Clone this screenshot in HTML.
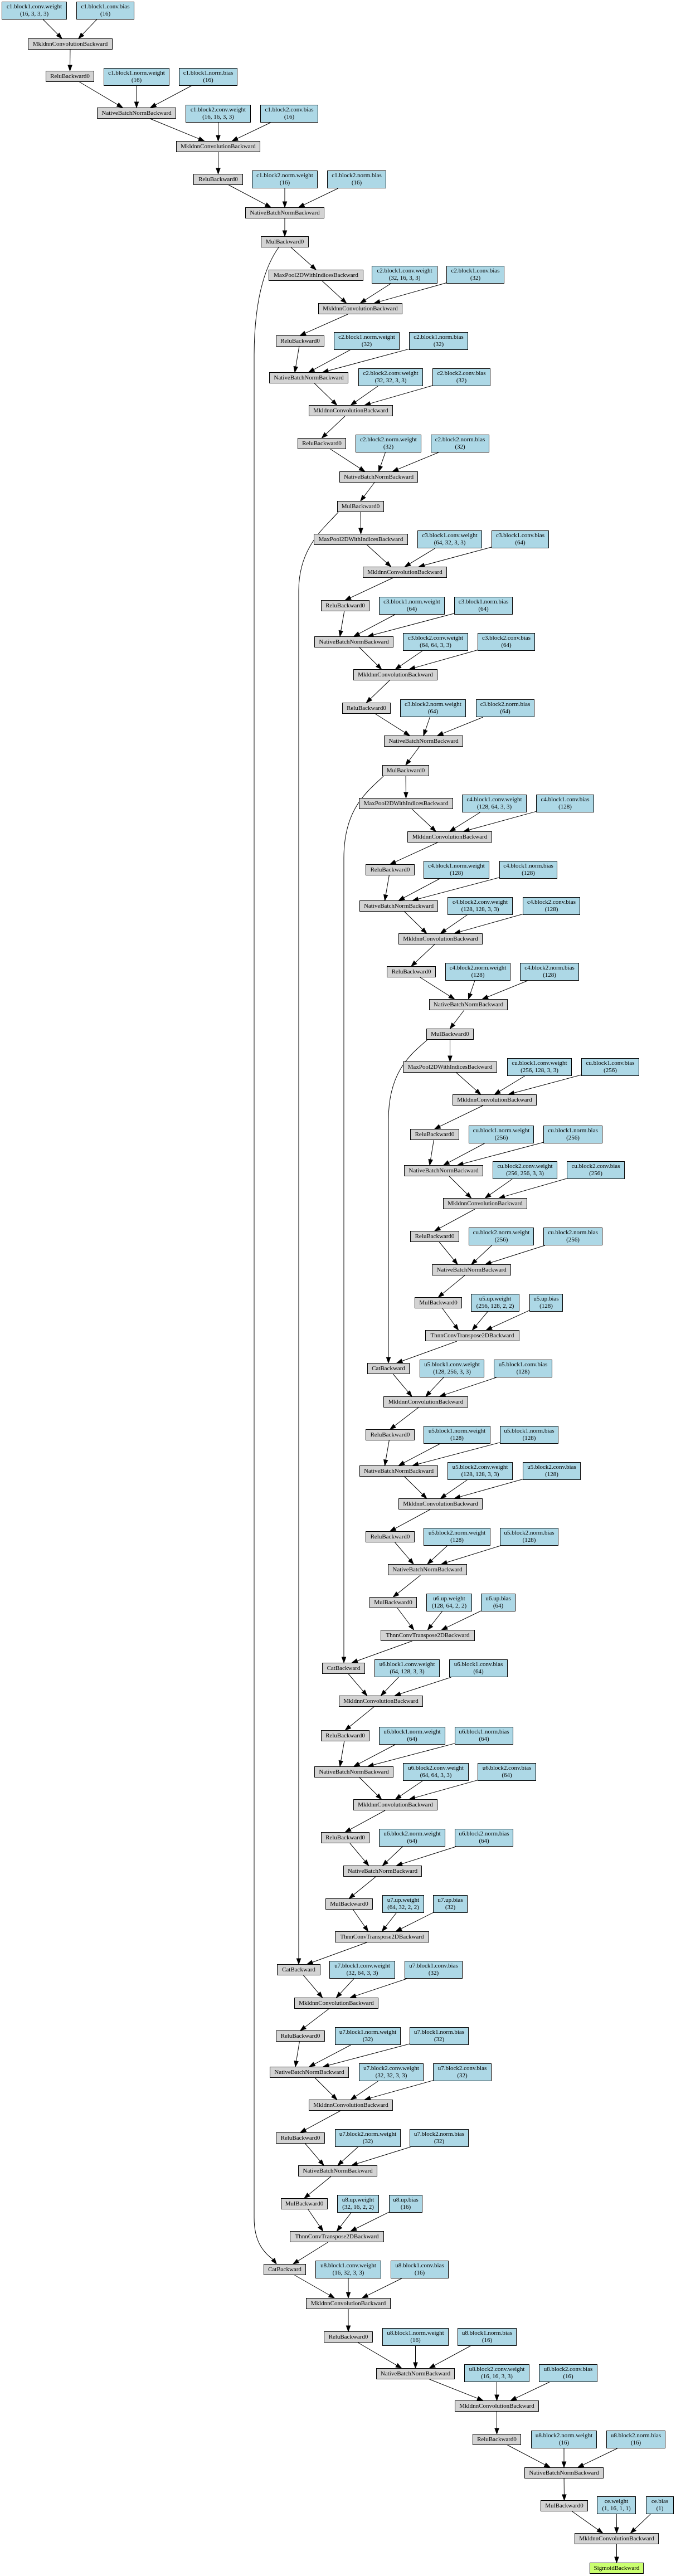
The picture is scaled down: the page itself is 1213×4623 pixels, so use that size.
<!DOCTYPE html>
<html><head><meta charset="utf-8">
<style>
html,body{margin:0;padding:0;background:#fff}
#w{position:relative;width:1213px;height:4623px;overflow:hidden}
svg{position:absolute;left:0;top:0}
.n{position:absolute;box-sizing:border-box;border:1px solid #000;font-family:"Liberation Serif",serif;font-size:11px;line-height:13px;color:#000;display:flex;align-items:center;justify-content:center;text-align:center;white-space:nowrap;overflow:hidden}
.g{background:#d3d3d3;height:20px}
.b{background:#add8e6;height:32px}
.s{background:#caff70;height:20px}
</style></head><body><div id="w">
<svg id="s" width="1213" height="4623" xmlns="http://www.w3.org/2000/svg"></svg>

<div class="n b" id="a1" style="left:3px;top:3px;width:117px">c1.block1.conv.weight<br>(16, 3, 3, 3)</div>
<div class="n b" id="a2" style="left:137px;top:3px;width:104px">c1.block1.conv.bias<br>(16)</div>
<div class="n g" id="a3" style="left:50px;top:69px;width:152px">MkldnnConvolutionBackward</div>
<div class="n g" id="a4" style="left:82px;top:127px;width:87px">ReluBackward0</div>
<div class="n b" id="a5" style="left:186px;top:122px;width:118px">c1.block1.norm.weight<br>(16)</div>
<div class="n b" id="a6" style="left:321px;top:122px;width:105px">c1.block1.norm.bias<br>(16)</div>
<div class="n g" id="a7" style="left:174px;top:193px;width:142px">NativeBatchNormBackward</div>
<div class="n b" id="a8" style="left:333px;top:188px;width:117px">c1.block2.conv.weight<br>(16, 16, 3, 3)</div>
<div class="n b" id="a9" style="left:467px;top:188px;width:104px">c1.block2.conv.bias<br>(16)</div>
<div class="n g" id="a10" style="left:316px;top:253px;width:151px">MkldnnConvolutionBackward</div>
<div class="n g" id="a11" style="left:347px;top:312px;width:89px">ReluBackward0</div>
<div class="n b" id="a12" style="left:452px;top:306px;width:118px">c1.block2.norm.weight<br>(16)</div>
<div class="n b" id="a13" style="left:587px;top:306px;width:106px">c1.block2.norm.bias<br>(16)</div>
<div class="n g" id="a14" style="left:440px;top:372px;width:142px">NativeBatchNormBackward</div>
<div class="n g" id="a15" style="left:468px;top:424px;width:86px">MulBackward0</div>

<div class="n g" id="b1" style="left:482px;top:484px;width:170px">MaxPool2DWithIndicesBackward</div>
<div class="n b" id="b2" style="left:667px;top:477px;width:118px">c2.block1.conv.weight<br>(32, 16, 3, 3)</div>
<div class="n b" id="b3" style="left:801px;top:477px;width:104px">c2.block1.conv.bias<br>(32)</div>
<div class="n g" id="b4" style="left:571px;top:544px;width:151px">MkldnnConvolutionBackward</div>
<div class="n g" id="b5" style="left:495px;top:602px;width:87px">ReluBackward0</div>
<div class="n b" id="b6" style="left:599px;top:596px;width:118px">c2.block1.norm.weight<br>(32)</div>
<div class="n b" id="b7" style="left:734px;top:596px;width:106px">c2.block1.norm.bias<br>(32)</div>
<div class="n g" id="b8" style="left:483px;top:668px;width:142px">NativeBatchNormBackward</div>
<div class="n b" id="b9" style="left:643px;top:661px;width:116px">c2.block2.conv.weight<br>(32, 32, 3, 3)</div>
<div class="n b" id="b10" style="left:776px;top:661px;width:104px">c2.block2.conv.bias<br>(32)</div>
<div class="n g" id="b11" style="left:554px;top:727px;width:151px">MkldnnConvolutionBackward</div>
<div class="n g" id="b12" style="left:534px;top:786px;width:87px">ReluBackward0</div>
<div class="n b" id="b13" style="left:638px;top:780px;width:118px">c2.block2.norm.weight<br>(32)</div>
<div class="n b" id="b14" style="left:773px;top:780px;width:105px">c2.block2.norm.bias<br>(32)</div>
<div class="n g" id="b15" style="left:609px;top:846px;width:141px">NativeBatchNormBackward</div>
<div class="n g" id="b16" style="left:605px;top:899px;width:84px">MulBackward0</div>

<div class="n g" id="c1" style="left:563px;top:958px;width:169px">MaxPool2DWithIndicesBackward</div>
<div class="n b" id="c2" style="left:749px;top:952px;width:116px">c3.block1.conv.weight<br>(64, 32, 3, 3)</div>
<div class="n b" id="c3" style="left:882px;top:952px;width:103px">c3.block1.conv.bias<br>(64)</div>
<div class="n g" id="c4" style="left:651px;top:1017px;width:151px">MkldnnConvolutionBackward</div>
<div class="n g" id="c5" style="left:576px;top:1077px;width:87px">ReluBackward0</div>
<div class="n b" id="c6" style="left:680px;top:1071px;width:118px">c3.block1.norm.weight<br>(64)</div>
<div class="n b" id="c7" style="left:815px;top:1071px;width:105px">c3.block1.norm.bias<br>(64)</div>
<div class="n g" id="c8" style="left:564px;top:1142px;width:142px">NativeBatchNormBackward</div>
<div class="n b" id="c9" style="left:723px;top:1136px;width:117px">c3.block2.conv.weight<br>(64, 64, 3, 3)</div>
<div class="n b" id="c10" style="left:857px;top:1136px;width:103px">c3.block2.conv.bias<br>(64)</div>
<div class="n g" id="c11" style="left:634px;top:1201px;width:151px">MkldnnConvolutionBackward</div>
<div class="n g" id="c12" style="left:614px;top:1261px;width:87px">ReluBackward0</div>
<div class="n b" id="c13" style="left:718px;top:1255px;width:118px">c3.block2.norm.weight<br>(64)</div>
<div class="n b" id="c14" style="left:854px;top:1255px;width:105px">c3.block2.norm.bias<br>(64)</div>
<div class="n g" id="c15" style="left:689px;top:1320px;width:142px">NativeBatchNormBackward</div>
<div class="n g" id="c16" style="left:686px;top:1373px;width:84px">MulBackward0</div>

<div class="n g" id="d1" style="left:644px;top:1432px;width:169px">MaxPool2DWithIndicesBackward</div>
<div class="n b" id="d2" style="left:829px;top:1426px;width:116px">c4.block1.conv.weight<br>(128, 64, 3, 3)</div>
<div class="n b" id="d3" style="left:962px;top:1426px;width:104px">c4.block1.conv.bias<br>(128)</div>
<div class="n g" id="d4" style="left:731px;top:1492px;width:152px">MkldnnConvolutionBackward</div>
<div class="n g" id="d5" style="left:656px;top:1551px;width:88px">ReluBackward0</div>
<div class="n b" id="d6" style="left:760px;top:1545px;width:118px">c4.block1.norm.weight<br>(128)</div>
<div class="n b" id="d7" style="left:896px;top:1545px;width:104px">c4.block1.norm.bias<br>(128)</div>
<div class="n g" id="d8" style="left:645px;top:1616px;width:141px">NativeBatchNormBackward</div>
<div class="n b" id="d9" style="left:803px;top:1610px;width:117px">c4.block2.conv.weight<br>(128, 128, 3, 3)</div>
<div class="n b" id="d10" style="left:938px;top:1610px;width:103px">c4.block2.conv.bias<br>(128)</div>
<div class="n g" id="d11" style="left:715px;top:1675px;width:151px">MkldnnConvolutionBackward</div>
<div class="n g" id="d12" style="left:694px;top:1734px;width:88px">ReluBackward0</div>
<div class="n b" id="d13" style="left:799px;top:1728px;width:117px">c4.block2.norm.weight<br>(128)</div>
<div class="n b" id="d14" style="left:933px;top:1728px;width:106px">c4.block2.norm.bias<br>(128)</div>
<div class="n g" id="d15" style="left:770px;top:1793px;width:141px">NativeBatchNormBackward</div>
<div class="n g" id="d16" style="left:765px;top:1846px;width:85px">MulBackward0</div>

<div class="n g" id="e1" style="left:723px;top:1905px;width:169px">MaxPool2DWithIndicesBackward</div>
<div class="n b" id="e2" style="left:910px;top:1899px;width:116px">cu.block1.conv.weight<br>(256, 128, 3, 3)</div>
<div class="n b" id="e3" style="left:1043px;top:1899px;width:104px">cu.block1.conv.bias<br>(256)</div>
<div class="n g" id="e4" style="left:812px;top:1964px;width:151px">MkldnnConvolutionBackward</div>
<div class="n g" id="e5" style="left:736px;top:2026px;width:88px">ReluBackward0</div>
<div class="n b" id="e6" style="left:841px;top:2020px;width:117px">cu.block1.norm.weight<br>(256)</div>
<div class="n b" id="e7" style="left:975px;top:2020px;width:106px">cu.block1.norm.bias<br>(256)</div>
<div class="n g" id="e8" style="left:725px;top:2091px;width:142px">NativeBatchNormBackward</div>
<div class="n b" id="e9" style="left:884px;top:2084px;width:116px">cu.block2.conv.weight<br>(256, 256, 3, 3)</div>
<div class="n b" id="e10" style="left:1017px;top:2084px;width:104px">cu.block2.conv.bias<br>(256)</div>
<div class="n g" id="e11" style="left:795px;top:2150px;width:151px">MkldnnConvolutionBackward</div>
<div class="n g" id="e12" style="left:736px;top:2209px;width:88px">ReluBackward0</div>
<div class="n b" id="e13" style="left:841px;top:2203px;width:117px">cu.block2.norm.weight<br>(256)</div>
<div class="n b" id="e14" style="left:975px;top:2203px;width:106px">cu.block2.norm.bias<br>(256)</div>
<div class="n g" id="e15" style="left:775px;top:2269px;width:142px">NativeBatchNormBackward</div>
<div class="n g" id="e16" style="left:744px;top:2328px;width:85px">MulBackward0</div>
<div class="n b" id="e17" style="left:845px;top:2322px;width:87px">u5.up.weight<br>(256, 128, 2, 2)</div>
<div class="n b" id="e18" style="left:950px;top:2322px;width:60px">u5.up.bias<br>(128)</div>
<div class="n g" id="e19" style="left:763px;top:2387px;width:169px">ThnnConvTranspose2DBackward</div>

<div class="n g" id="f1" style="left:659px;top:2446px;width:76px">CatBackward</div>
<div class="n b" id="f2" style="left:753px;top:2440px;width:116px">u5.block1.conv.weight<br>(128, 256, 3, 3)</div>
<div class="n b" id="f3" style="left:886px;top:2440px;width:105px">u5.block1.conv.bias<br>(128)</div>
<div class="n g" id="f4" style="left:688px;top:2506px;width:152px">MkldnnConvolutionBackward</div>
<div class="n g" id="f5" style="left:656px;top:2565px;width:88px">ReluBackward0</div>
<div class="n b" id="f6" style="left:760px;top:2559px;width:120px">u5.block1.norm.weight<br>(128)</div>
<div class="n b" id="f7" style="left:897px;top:2559px;width:105px">u5.block1.norm.bias<br>(128)</div>
<div class="n g" id="f8" style="left:645px;top:2630px;width:141px">NativeBatchNormBackward</div>
<div class="n b" id="f9" style="left:803px;top:2624px;width:117px">u5.block2.conv.weight<br>(128, 128, 3, 3)</div>
<div class="n b" id="f10" style="left:938px;top:2624px;width:104px">u5.block2.conv.bias<br>(128)</div>
<div class="n g" id="f11" style="left:715px;top:2689px;width:151px">MkldnnConvolutionBackward</div>
<div class="n g" id="f12" style="left:656px;top:2748px;width:88px">ReluBackward0</div>
<div class="n b" id="f13" style="left:760px;top:2742px;width:120px">u5.block2.norm.weight<br>(128)</div>
<div class="n b" id="f14" style="left:897px;top:2742px;width:105px">u5.block2.norm.bias<br>(128)</div>
<div class="n g" id="f15" style="left:696px;top:2807px;width:142px">NativeBatchNormBackward</div>
<div class="n g" id="f16" style="left:663px;top:2866px;width:85px">MulBackward0</div>
<div class="n b" id="f17" style="left:765px;top:2860px;width:82px">u6.up.weight<br>(128, 64, 2, 2)</div>
<div class="n b" id="f18" style="left:863px;top:2860px;width:62px">u6.up.bias<br>(64)</div>
<div class="n g" id="f19" style="left:683px;top:2925px;width:169px">ThnnConvTranspose2DBackward</div>

<div class="n g" id="g1" style="left:578px;top:2984px;width:77px">CatBackward</div>
<div class="n b" id="g2" style="left:672px;top:2978px;width:117px">u6.block1.conv.weight<br>(64, 128, 3, 3)</div>
<div class="n b" id="g3" style="left:806px;top:2978px;width:105px">u6.block1.conv.bias<br>(64)</div>
<div class="n g" id="g4" style="left:608px;top:3043px;width:151px">MkldnnConvolutionBackward</div>
<div class="n g" id="g5" style="left:576px;top:3105px;width:87px">ReluBackward0</div>
<div class="n b" id="g6" style="left:680px;top:3099px;width:119px">u6.block1.norm.weight<br>(64)</div>
<div class="n b" id="g7" style="left:816px;top:3099px;width:105px">u6.block1.norm.bias<br>(64)</div>
<div class="n g" id="g8" style="left:564px;top:3170px;width:142px">NativeBatchNormBackward</div>
<div class="n b" id="g9" style="left:723px;top:3164px;width:118px">u6.block2.conv.weight<br>(64, 64, 3, 3)</div>
<div class="n b" id="g10" style="left:857px;top:3164px;width:105px">u6.block2.conv.bias<br>(64)</div>
<div class="n g" id="g11" style="left:634px;top:3229px;width:151px">MkldnnConvolutionBackward</div>
<div class="n g" id="g12" style="left:576px;top:3288px;width:87px">ReluBackward0</div>
<div class="n b" id="g13" style="left:680px;top:3282px;width:119px">u6.block2.norm.weight<br>(64)</div>
<div class="n b" id="g14" style="left:816px;top:3282px;width:105px">u6.block2.norm.bias<br>(64)</div>
<div class="n g" id="g15" style="left:616px;top:3348px;width:141px">NativeBatchNormBackward</div>
<div class="n g" id="g16" style="left:584px;top:3407px;width:85px">MulBackward0</div>
<div class="n b" id="g17" style="left:686px;top:3401px;width:75px">u7.up.weight<br>(64, 32, 2, 2)</div>
<div class="n b" id="g18" style="left:777px;top:3401px;width:62px">u7.up.bias<br>(32)</div>
<div class="n g" id="g19" style="left:601px;top:3466px;width:169px">ThnnConvTranspose2DBackward</div>

<div class="n g" id="h1" style="left:497px;top:3525px;width:78px">CatBackward</div>
<div class="n b" id="h2" style="left:591px;top:3519px;width:118px">u7.block1.conv.weight<br>(32, 64, 3, 3)</div>
<div class="n b" id="h3" style="left:726px;top:3519px;width:104px">u7.block1.conv.bias<br>(32)</div>
<div class="n g" id="h4" style="left:528px;top:3585px;width:151px">MkldnnConvolutionBackward</div>
<div class="n g" id="h5" style="left:495px;top:3644px;width:88px">ReluBackward0</div>
<div class="n b" id="h6" style="left:601px;top:3638px;width:118px">u7.block1.norm.weight<br>(32)</div>
<div class="n b" id="h7" style="left:735px;top:3638px;width:106px">u7.block1.norm.bias<br>(32)</div>
<div class="n g" id="h8" style="left:484px;top:3709px;width:142px">NativeBatchNormBackward</div>
<div class="n b" id="h9" style="left:644px;top:3703px;width:116px">u7.block2.conv.weight<br>(32, 32, 3, 3)</div>
<div class="n b" id="h10" style="left:777px;top:3703px;width:105px">u7.block2.conv.bias<br>(32)</div>
<div class="n g" id="h11" style="left:554px;top:3768px;width:151px">MkldnnConvolutionBackward</div>
<div class="n g" id="h12" style="left:495px;top:3827px;width:88px">ReluBackward0</div>
<div class="n b" id="h13" style="left:601px;top:3821px;width:118px">u7.block2.norm.weight<br>(32)</div>
<div class="n b" id="h14" style="left:735px;top:3821px;width:106px">u7.block2.norm.bias<br>(32)</div>
<div class="n g" id="h15" style="left:535px;top:3886px;width:142px">NativeBatchNormBackward</div>
<div class="n g" id="h16" style="left:504px;top:3945px;width:84px">MulBackward0</div>
<div class="n b" id="h17" style="left:605px;top:3939px;width:75px">u8.up.weight<br>(32, 16, 2, 2)</div>
<div class="n b" id="h18" style="left:698px;top:3939px;width:60px">u8.up.bias<br>(16)</div>
<div class="n g" id="h19" style="left:520px;top:4004px;width:169px">ThnnConvTranspose2DBackward</div>

<div class="n g" id="i1" style="left:473px;top:4063px;width:76px">CatBackward</div>
<div class="n b" id="i2" style="left:566px;top:4057px;width:118px">u8.block1.conv.weight<br>(16, 32, 3, 3)</div>
<div class="n b" id="i3" style="left:701px;top:4057px;width:104px">u8.block1.conv.bias<br>(16)</div>
<div class="n g" id="i4" style="left:549px;top:4124px;width:152px">MkldnnConvolutionBackward</div>
<div class="n g" id="i5" style="left:581px;top:4184px;width:88px">ReluBackward0</div>
<div class="n b" id="i6" style="left:686px;top:4178px;width:119px">u8.block1.norm.weight<br>(16)</div>
<div class="n b" id="i7" style="left:821px;top:4178px;width:106px">u8.block1.norm.bias<br>(16)</div>
<div class="n g" id="i8" style="left:675px;top:4250px;width:141px">NativeBatchNormBackward</div>
<div class="n b" id="i9" style="left:833px;top:4243px;width:117px">u8.block2.conv.weight<br>(16, 16, 3, 3)</div>
<div class="n b" id="i10" style="left:967px;top:4243px;width:105px">u8.block2.conv.bias<br>(16)</div>
<div class="n g" id="i11" style="left:816px;top:4308px;width:151px">MkldnnConvolutionBackward</div>
<div class="n g" id="i12" style="left:848px;top:4368px;width:87px">ReluBackward0</div>
<div class="n b" id="i13" style="left:953px;top:4362px;width:118px">u8.block2.norm.weight<br>(16)</div>
<div class="n b" id="i14" style="left:1088px;top:4362px;width:106px">u8.block2.norm.bias<br>(16)</div>
<div class="n g" id="i15" style="left:941px;top:4428px;width:142px">NativeBatchNormBackward</div>
<div class="n g" id="i16" style="left:970px;top:4487px;width:85px">MulBackward0</div>
<div class="n b" id="i17" style="left:1071px;top:4480px;width:70px">ce.weight<br>(1, 16, 1, 1)</div>
<div class="n b" id="i18" style="left:1159px;top:4480px;width:50px">ce.bias<br>(1)</div>
<div class="n g" id="i19" style="left:1031px;top:4546px;width:151px">MkldnnConvolutionBackward</div>
<div class="n s" id="i20" style="left:1058px;top:4599px;width:97px">SigmoidBackward</div>

</div>
<script>
(function(){
var E=[];
function add(a,b,o){E.push([a,b,o]);}
var S=[[1,4],[2,4],[3,4],[4,5],[5,8],[6,8],[7,8],[8,11],[9,11],[10,11],[11,12],[12,15],[13,15],[14,15],[15,16]];
[[1,3],[2,3],[3,4],[4,7],[5,7],[6,7],[7,10],[8,10],[9,10],[10,11],[11,14],[12,14],[13,14],[14,15]].forEach(function(p){add('a'+p[0],'a'+p[1]);});
add('a15','b1');
['b','c','d','e','f','g','h','i'].forEach(function(p){S.forEach(function(q){add(p+q[0],p+q[1]);});});
add('b16','c1');add('c16','d1');add('d16','e1');
['e','f','g','h'].forEach(function(p){add(p+'16',p+'19');add(p+'17',p+'19');add(p+'18',p+'19');});
add('e19','f1',15);add('f19','g1',15);add('g19','h1',15);add('h19','i1',15);
add('i16','i19');add('i17','i19');add('i18','i19');add('i19','i20');
function box(id){var e=document.getElementById(id);return {x:e.offsetLeft,y:e.offsetTop,w:e.offsetWidth,h:e.offsetHeight};}
var out='';
function arrow(ax,ay,bx,by){
 var dx=bx-ax,dy=by-ay,l=Math.sqrt(dx*dx+dy*dy),ux=dx/l,uy=dy/l;
 var cx=bx-ux*10,cy=by-uy*10;
 out+='<line x1="'+ax.toFixed(1)+'" y1="'+ay.toFixed(1)+'" x2="'+cx.toFixed(1)+'" y2="'+cy.toFixed(1)+'" stroke="#000" stroke-width="1"/>';
 head(bx,by,ux,uy);
}
function head(bx,by,ux,uy){
 var cx=bx-ux*10,cy=by-uy*10,px=-uy*3.6,py=ux*3.6;
 out+='<polygon points="'+bx.toFixed(1)+','+by.toFixed(1)+' '+(cx+px).toFixed(1)+','+(cy+py).toFixed(1)+' '+(cx-px).toFixed(1)+','+(cy-py).toFixed(1)+'" fill="#000" stroke="#000" stroke-width="1"/>';
}
var byT={},order=[];
E.forEach(function(e){if(!byT[e[1]]){byT[e[1]]=[];order.push(e[1]);}byT[e[1]].push(e);});
order.forEach(function(t){
 var L=byT[t],tb=box(t);
 L.forEach(function(e){e.sb=box(e[0]);e.scx=e.sb.x+e.sb.w/2;});
 L.sort(function(a,b){return a.scx-b.scx;});
 var n=L.length,offs=n==1?[0]:n==2?[-15,15]:[-25,0,25];
 L.forEach(function(e,i){
  var off=(e[2]!==undefined)?e[2]:offs[i];
  var sb=e.sb,scx=e.scx,scy=sb.y+sb.h/2;
  var Tx=tb.x+tb.w/2+off,Ty=tb.y;
  var dx=Tx-scx,dy=Ty-scy;
  var k=Math.min(dx!==0?(sb.w/2)/Math.abs(dx):1e9,(sb.h/2)/Math.abs(dy));
  arrow(scx+dx*k,scy+dy*k,Tx,Ty);
 });
});
function skip(d,tx,ty,ux,uy){
 out+='<path d="'+d+'" fill="none" stroke="#000" stroke-width="1"/>';
 head(tx,ty,ux,uy);
}
skip('M500,444 C478,475 456,530 456,640 L456,3980 C456,4020 470,4040 490,4055',496,4063,0.6,0.8);
skip('M607,919 C585,945 536,980 536,1060 L536,3515',536,3525,0,1);
skip('M688,1393 C660,1420 617,1450 617,1540 L617,2974',617,2984,0,1);
skip('M767,1866 C740,1890 697,1920 697,2010 L697,2436',697,2446,0,1);
document.getElementById('s').innerHTML=out;
})();
</script>
</body></html>
